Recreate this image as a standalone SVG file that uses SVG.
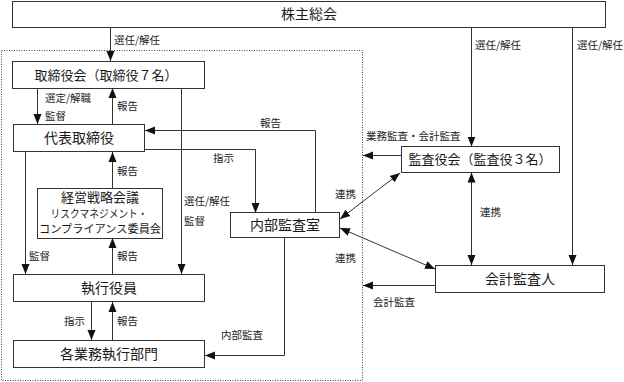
<svg xmlns="http://www.w3.org/2000/svg" width="624" height="382" viewBox="0 0 624 382">
<style>
.box{fill:#fff;stroke:#333;stroke-width:1}
.t{font-family:"Noto Sans CJK JP","Noto Sans",sans-serif;font-size:14px;fill:#1a1a1a;text-anchor:middle}
.l{font-family:"Noto Sans CJK JP","Noto Sans",sans-serif;font-size:10.5px;fill:#222}
.c{fill:none;stroke:#333;stroke-width:1}
</style>
<defs>
<marker id="ah" markerUnits="userSpaceOnUse" markerWidth="10" markerHeight="10" viewBox="0 0 10 10" refX="10" refY="5" orient="auto-start-reverse">
<path d="M0,1 L10,5 L0,9 Z" fill="#111"/>
</marker>
</defs>
<rect x="1.5" y="50.5" width="361" height="330" fill="none" stroke="#444" stroke-width="1" stroke-dasharray="1,1.5"/>
<g id="connectors">
<path class="c" d="M110.5 27 V61" marker-end="url(#ah)"/>
<path class="c" d="M471.5 27 V146.5" marker-end="url(#ah)"/>
<path class="c" d="M572.5 27 V265" marker-end="url(#ah)"/>
<path class="c" d="M37.5 88 V124" marker-end="url(#ah)"/>
<path class="c" d="M112.5 124 V88" marker-end="url(#ah)"/>
<path class="c" d="M181.5 88 V274" marker-end="url(#ah)"/>
<path class="c" d="M25.5 152 V274" marker-end="url(#ah)"/>
<path class="c" d="M112.5 188 V152" marker-end="url(#ah)"/>
<path class="c" d="M112.5 274 V238" marker-end="url(#ah)"/>
<path class="c" d="M315.5 213 V130.5 H145" marker-end="url(#ah)"/>
<path class="c" d="M145 149.5 H255.5 V213" marker-end="url(#ah)"/>
<path class="c" d="M284.5 238 V355.5 H205" marker-end="url(#ah)"/>
<path class="c" d="M91.5 302 V340" marker-end="url(#ah)"/>
<path class="c" d="M112.5 340 V302" marker-end="url(#ah)"/>
<path class="c" d="M401 155.5 H363" marker-end="url(#ah)"/>
<path class="c" d="M435 285.5 H363" marker-end="url(#ah)"/>
<path class="c" d="M400 173 L340 219" marker-start="url(#ah)" marker-end="url(#ah)"/>
<path class="c" d="M340 228 L435 269" marker-start="url(#ah)" marker-end="url(#ah)"/>
<path class="c" d="M471.5 172.5 V265" marker-start="url(#ah)" marker-end="url(#ah)"/>
</g>
<g id="kabunushi"><rect class="box" x="12.5" y="1.5" width="593" height="26"/><text class="t" x="309" y="19">株主総会</text></g>
<g id="torishimariyakukai"><rect class="box" x="12.5" y="61.5" width="192" height="27"/><text class="t" x="106" y="80" style="font-size:13px">取締役会（取締役７名）</text></g>
<g id="daihyo"><rect class="box" x="13.5" y="124.5" width="131" height="27"/><text class="t" x="79" y="143">代表取締役</text></g>
<g id="keiei"><rect class="box" x="37.5" y="188.5" width="125" height="50"/>
<text class="t" x="100" y="202" style="font-size:13px">経営戦略会議</text>
<text class="t" x="99" y="218" style="font-size:11px" textLength="97" lengthAdjust="spacingAndGlyphs">リスクマネジメント・</text>
<text class="t" x="100" y="233" style="font-size:11px" textLength="122" lengthAdjust="spacingAndGlyphs">コンプライアンス委員会</text></g>
<g id="naibu"><rect class="box" x="230.5" y="212.5" width="109" height="25"/><text class="t" x="285" y="230">内部監査室</text></g>
<g id="shikko"><rect class="box" x="13.5" y="274.5" width="191" height="27"/><text class="t" x="109" y="293">執行役員</text></g>
<g id="kakugyomu"><rect class="box" x="13.5" y="340.5" width="191" height="27"/><text class="t" x="109" y="359">各業務執行部門</text></g>
<g id="kansayakukai"><rect class="box" x="401.5" y="146.5" width="158" height="26"/><text class="t" x="480" y="164" style="font-size:13px">監査役会（監査役３名）</text></g>
<g id="kaikei"><rect class="box" x="435.5" y="265.5" width="169" height="27"/><text class="t" x="520" y="284">会計監査人</text></g>
<g id="labels">
<text class="l" x="114" y="44">選任/解任</text>
<text class="l" x="475" y="49">選任/解任</text>
<text class="l" x="577" y="49">選任/解任</text>
<text class="l" x="45" y="102">選定/解職</text>
<text class="l" x="45" y="120">監督</text>
<text class="l" x="117" y="110">報告</text>
<text class="l" x="260" y="127">報告</text>
<text class="l" x="213" y="162">指示</text>
<text class="l" x="117" y="175">報告</text>
<text class="l" x="184" y="205">選任/解任</text>
<text class="l" x="184" y="225">監督</text>
<text class="l" x="29" y="260">監督</text>
<text class="l" x="117" y="260">報告</text>
<text class="l" x="64" y="325">指示</text>
<text class="l" x="117" y="325">報告</text>
<text class="l" x="221" y="339">内部監査</text>
<text class="l" x="366" y="140">業務監査・会計監査</text>
<text class="l" x="335" y="198">連携</text>
<text class="l" x="480" y="216">連携</text>
<text class="l" x="335" y="262">連携</text>
<text class="l" x="373" y="306">会計監査</text>
</g>
</svg>
